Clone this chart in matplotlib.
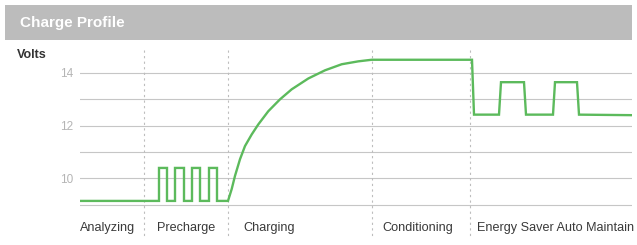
import matplotlib
matplotlib.use("Agg")
import matplotlib.pyplot as plt
from matplotlib import font_manager
from matplotlib.patches import Rectangle

# phase names and where each phase starts on the time axis
phase_names = ["Analyzing", "Precharge", "Charging", "Conditioning", "Energy Saver Auto Maintain"]
phase_starts = [0, 64, 148, 292, 390]
time_end = 552

# voltage profile
time_pts = [0, 79, 79, 87, 87, 95, 95, 104, 104, 112, 112, 120, 120, 129, 129, 137, 137, 148,
            151.7, 155, 160, 165, 171.7, 178.3, 188.3, 200, 211.7, 228.3, 245, 261.7, 278.3, 291.7,
            392, 394, 419, 421, 444, 446, 473, 475, 497, 499, 552]
volt_pts = [9.15, 9.15, 10.4, 10.4, 9.15, 9.15, 10.4, 10.4, 9.15, 9.15, 10.4, 10.4, 9.15, 9.15, 10.4, 10.4, 9.15, 9.15,
            9.6, 10.1, 10.73, 11.23, 11.67, 12.05, 12.55, 13.0, 13.38, 13.79, 14.1, 14.33, 14.44, 14.5,
            14.5, 12.42, 12.42, 13.65, 13.65, 12.42, 12.42, 13.65, 13.65, 12.42, 12.4]

grid_volts = [9, 10, 11, 12, 13, 14]
tick_volts = [10, 12, 14]

names = {f.name for f in font_manager.fontManager.ttflist}
narrow = "Liberation Sans Narrow" if "Liberation Sans Narrow" in names else "Liberation Sans"

W, H = 637, 245
fig = plt.figure(figsize=(W / 100, H / 100), dpi=100)
fig.patch.set_facecolor("white")

# grey header bar
fig.patches.append(Rectangle((5 / W, 1 - 40 / H), 627 / W, 35 / H, transform=fig.transFigure,
                             facecolor="#bcbcbc", edgecolor="none"))
fig.text(20 / W, 1 - 23 / H, "Charge Profile", color="white", fontsize=11, fontweight="bold",
         family=narrow, va="center", ha="left")
fig.text(17 / W, 1 - 55 / H, "Volts", color="#333333", fontsize=9, fontweight="bold",
         family=narrow, va="center", ha="left")

ax = fig.add_axes([80 / W, 33 / H, 552 / W, 162 / H])
ax.set_xlim(0, time_end)
ax.set_ylim(8.73, 14.87)
for s in ax.spines.values():
    s.set_visible(False)
ax.set_facecolor("none")

for v in grid_volts:
    ax.axhline(v, color="#c6c6c6", lw=0.8, zorder=1)

for x in phase_starts[1:]:
    ax.plot([x, x], [1.0, -0.16], transform=ax.get_xaxis_transform(), color="#bdbdbd",
            lw=0.8, ls=(0, (2, 3)), clip_on=False, zorder=1)

ax.plot(time_pts, volt_pts, color="#5cba5c", lw=1.7, zorder=3, solid_joinstyle="miter")

ax.set_xticks([])
ax.set_yticks(tick_volts)
ax.set_yticklabels([str(v) for v in tick_volts], family=narrow, fontsize=8.5, color="#b5b5b5")
ax.tick_params(axis="y", length=0, pad=5)

pads = [0, 13, 15, 10, 7]
for name, x0, p in zip(phase_names, phase_starts, pads):
    ax.text(x0 + p, -0.1, name, transform=ax.get_xaxis_transform(), family=narrow,
            fontsize=9.1, color="#3a3a3a", va="center", ha="left")

fig.savefig("out.png", dpi=100)
